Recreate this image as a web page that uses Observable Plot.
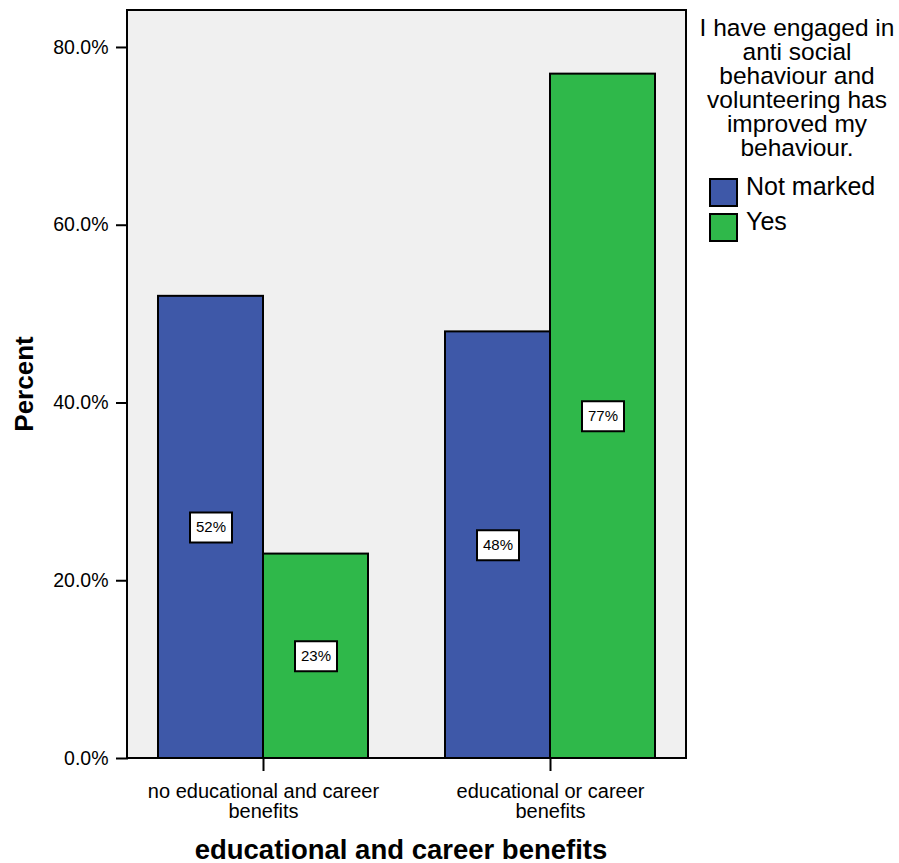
<!DOCTYPE html>
<html>
<head>
<meta charset="utf-8">
<script src="https://cdn.jsdelivr.net/npm/d3@7"></script>
<script src="https://cdn.jsdelivr.net/npm/@observablehq/plot@0.6"></script>
<style>
  body { margin: 0; background: white; }
  #chart { width: 899px; height: 863px; }
</style>
</head>
<body>
<div id="chart"></div>
<script>
const groups = ["no educational and career benefits", "educational or career benefits"];
const groupLabels = ["no educational and career\nbenefits", "educational or career\nbenefits"];
const series = ["Not marked", "Yes"];
const notMarked = [52, 48];
const yes = [23, 77];
const yTicks = [0, 20, 40, 60, 80];
const legendTitle = ["I have engaged in", "anti social", "behaviour and", "volunteering has", "improved my", "behaviour."];
const colors = ["#3e58a8", "#2fb84a"];

const data = groups.flatMap((g, i) => [
  {group: g, series: series[0], value: notMarked[i]},
  {group: g, series: series[1], value: yes[i]}
]);

const W = 899, H = 863, ML = 127, MR = 213, MT = 10, MB = 105;
const font = "'Liberation Sans', Arial, Helvetica, sans-serif";

const boxSymbol = {
  draw(context) { context.rect(-21, -15, 42, 30); }
};

const plot = Plot.plot({
  width: W, height: H,
  marginLeft: ML, marginRight: MR, marginTop: MT, marginBottom: MB,
  style: {fontFamily: font, background: "white", color: "black", overflow: "visible"},
  fx: {domain: groups, paddingInner: 0.059, paddingOuter: 0, label: null},
  x: {domain: series, paddingInner: 0, paddingOuter: 0.284, axis: null},
  y: {domain: [0, 84.16], label: null},
  color: {domain: series, range: colors},
  marks: [
    Plot.barY(data, {fx: "group", x: "series", y: "value", fill: "series", stroke: "black", strokeWidth: 2}),
    Plot.dot(data, {fx: "group", x: "series", y: d => d.value / 2, symbol: boxSymbol, r: 10, fill: "white", stroke: "black", strokeWidth: 2}),
    Plot.text(data, {fx: "group", x: "series", y: d => d.value / 2, text: d => `${d.value}%`, fontSize: 15, fill: "black"}),
    Plot.axisY({ticks: yTicks, tickFormat: d => d.toFixed(1) + "%", tickSize: 12, tickPadding: 8, fontSize: 19.5, strokeWidth: 2, label: null}),
    Plot.axisFx({anchor: "bottom", tickSize: 13, tickPadding: 12, fontSize: 20, lineHeight: 1, strokeWidth: 2,
      tickFormat: g => groupLabels[groups.indexOf(g)], label: null})
  ]
});

const svg = d3.select(plot);
// plot-area background and frame
svg.insert("rect", ":first-child")
  .attr("x", ML).attr("y", MT).attr("width", W - ML - MR).attr("height", H - MT - MB)
  .attr("fill", "#f0f0f0").attr("stroke", "black").attr("stroke-width", 2);
svg.insert("rect", ":first-child")
  .attr("x", 0).attr("y", 0).attr("width", W).attr("height", H).attr("fill", "white");

// axis titles
svg.append("text")
  .attr("transform", `translate(33,${MT + (H - MT - MB) / 2}) rotate(-90)`)
  .attr("text-anchor", "middle").attr("font-size", 26).attr("font-weight", "bold")
  .attr("font-family", font).attr("fill", "black").text("Percent");
svg.append("text")
  .attr("x", 401).attr("y", 859)
  .attr("text-anchor", "middle").attr("font-size", 27.5).attr("font-weight", "bold")
  .attr("font-family", font).attr("fill", "black").text("educational and career benefits");

// legend
const color = plot.scale("color");
const lg = svg.append("g").attr("font-family", font).attr("fill", "black");
legendTitle.forEach((t, i) => {
  lg.append("text").attr("x", 797).attr("y", 36 + i * 24)
    .attr("text-anchor", "middle").attr("font-size", 24.5).text(t);
});
series.forEach((s, i) => {
  lg.append("rect").attr("x", 710).attr("y", 179 + i * 35).attr("width", 27).attr("height", 27)
    .attr("fill", color.apply(s)).attr("stroke", "black").attr("stroke-width", 2);
  lg.append("text").attr("x", 746).attr("y", 195 + i * 35)
    .attr("text-anchor", "start").attr("font-size", 25).text(s);
});

document.getElementById("chart").appendChild(plot);
</script>
</body>
</html>
